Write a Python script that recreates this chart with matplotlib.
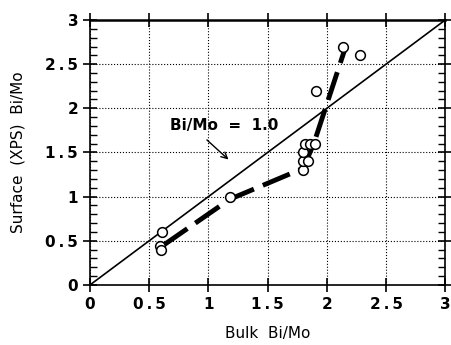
import matplotlib
matplotlib.use("Agg")
import matplotlib.pyplot as plt
from matplotlib.ticker import MultipleLocator

# circles (bulk, surface)
bulk = [0.61, 0.59, 0.60, 1.18, 1.80, 1.80, 1.84, 1.80, 1.82, 1.86, 1.90, 1.91, 2.14, 2.28]
surf = [0.60, 0.44, 0.40, 1.00, 1.30, 1.40, 1.40, 1.50, 1.60, 1.60, 1.60, 2.20, 2.70, 2.60]

# thick dashed trend line
trend_x = [0.62, 1.18, 1.80, 1.89, 2.16]
trend_y = [0.45, 0.97, 1.32, 1.60, 2.70]

ideal = [0, 3]
ticks = [0, 0.5, 1, 1.5, 2, 2.5, 3]
tick_text = ["0", "0\u2009.\u20095", "1", "1\u2009.\u20095", "2", "2\u2009.\u20095", "3"]

fig = plt.figure(figsize=(4.52, 3.45), dpi=100)
ax = fig.add_axes([0.199, 0.174, 0.786, 0.768])

ax.plot(ideal, ideal, color="black", lw=1.2)
ax.plot(trend_x, trend_y, color="black", lw=3.5, dashes=(6, 2), solid_capstyle="butt")
ax.plot(bulk, surf, "o", mfc="white", mec="black", ms=7, mew=1.1)

ax.annotate("Bi/Mo  =  1.0", xy=(1.17, 1.42), xytext=(0.68, 1.75),
            fontsize=11, fontweight="bold",
            arrowprops=dict(arrowstyle="->", color="black", lw=1,
                            relpos=(0.27, 0), shrinkA=4, shrinkB=0))

ax.set_xlim(0, 3)
ax.set_ylim(0, 3)
ax.yaxis.set_minor_locator(MultipleLocator(0.1))
ax.set_xticks(ticks)
ax.set_xticklabels(tick_text)
ax.set_yticks(ticks)
ax.set_yticklabels(tick_text)
ax.tick_params(which="major", direction="inout", length=10, width=1.2,
               top=True, right=True, labelsize=11)
ax.tick_params(which="minor", direction="in", length=5, width=1, left=True, right=True)
for lab in ax.get_xticklabels() + ax.get_yticklabels():
    lab.set_fontweight("bold")
ax.grid(True, which="major", linestyle=":", color="black", lw=0.8)

for s in ax.spines.values():
    s.set_linewidth(1.2)
ax.spines["top"].set_linewidth(1.8)

ax.set_xlabel("Bulk  Bi/Mo", fontsize=11, labelpad=10)
ax.set_ylabel("Surface  (XPS)  Bi/Mo", fontsize=11, labelpad=14)

fig.savefig("out.png", dpi=100)
